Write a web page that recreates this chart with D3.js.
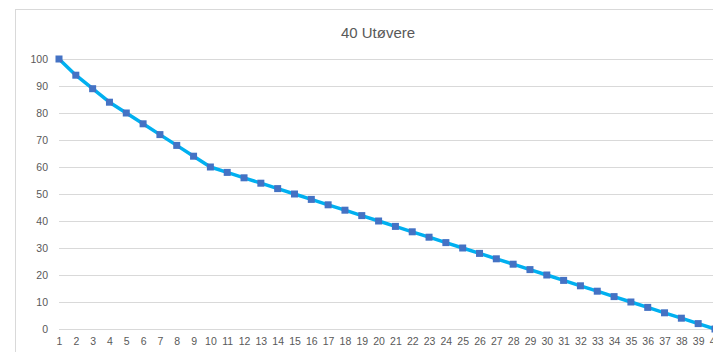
<!DOCTYPE html>
<html>
<head>
<meta charset="utf-8">
<script src="https://cdn.jsdelivr.net/npm/d3@7"></script>
<style>
  html, body { margin: 0; padding: 0; background: #fff; }
  svg { display: block; }
  .tick text { font-family: "Liberation Sans", Arial, sans-serif; fill: #595959; }
</style>
</head>
<body>
<svg id="chart" width="713" height="352"></svg>
<script>
// Points awarded by finishing place, 40 athletes
const places = d3.range(1, 41).map(String);
const points = [100, 94, 89, 84, 80, 76, 72, 68, 64, 60,
                58, 56, 54, 52, 50, 48, 46, 44, 42, 40,
                38, 36, 34, 32, 30, 28, 26, 24, 22, 20,
                18, 16, 14, 12, 10, 8, 6, 4, 2, 0];
const yTicks = [0, 10, 20, 30, 40, 50, 60, 70, 80, 90, 100];
const title = "40 Utøvere";

const svg = d3.select("#chart");
const W = 713, H = 352;
const plot = { left: 59, right: 715, top: 59, bottom: 329 };

// chart frame (runs past the right and bottom edges)
svg.append("rect")
  .attr("x", 15.5).attr("y", 9.5)
  .attr("width", 760).attr("height", 400)
  .attr("fill", "#fff").attr("stroke", "#d9d9d9").attr("stroke-width", 1);

const x = d3.scalePoint().domain(places).range([plot.left, plot.right]);
const y = d3.scaleLinear().domain([0, 100]).range([plot.bottom, plot.top]);

// horizontal gridlines + value labels
const yAxis = svg.append("g")
  .attr("transform", `translate(${plot.left},0)`)
  .call(d3.axisLeft(y).tickValues(yTicks).tickSize(-(W - plot.left + 20)).tickPadding(11));
yAxis.select(".domain").remove();
yAxis.selectAll(".tick line").attr("stroke", "#d9d9d9").attr("stroke-width", 1);
yAxis.selectAll(".tick text").attr("font-size", 10.5);

// category labels
const xAxis = svg.append("g")
  .attr("transform", `translate(0,${plot.bottom})`)
  .call(d3.axisBottom(x).tickSize(0).tickPadding(9));
xAxis.select(".domain").remove();
xAxis.selectAll(".tick text").attr("font-size", 10.5);

// series line
const line = d3.line().x((d, i) => x(places[i])).y(d => y(d));
svg.append("path")
  .datum(points)
  .attr("d", line)
  .attr("fill", "none")
  .attr("stroke", "#00b0f0")
  .attr("stroke-width", 3.5)
  .attr("stroke-linejoin", "round");

// square markers
const ms = 7;
svg.append("g").selectAll("rect")
  .data(points)
  .join("rect")
  .attr("x", (d, i) => x(places[i]) - ms / 2)
  .attr("y", d => y(d) - ms / 2)
  .attr("width", ms).attr("height", ms)
  .attr("fill", "#4472c4");

// title
svg.append("text")
  .attr("x", 378).attr("y", 38)
  .attr("text-anchor", "middle")
  .attr("font-family", "'Liberation Sans', Arial, sans-serif")
  .attr("font-size", 15)
  .attr("fill", "#595959")
  .text(title);
</script>
</body>
</html>
